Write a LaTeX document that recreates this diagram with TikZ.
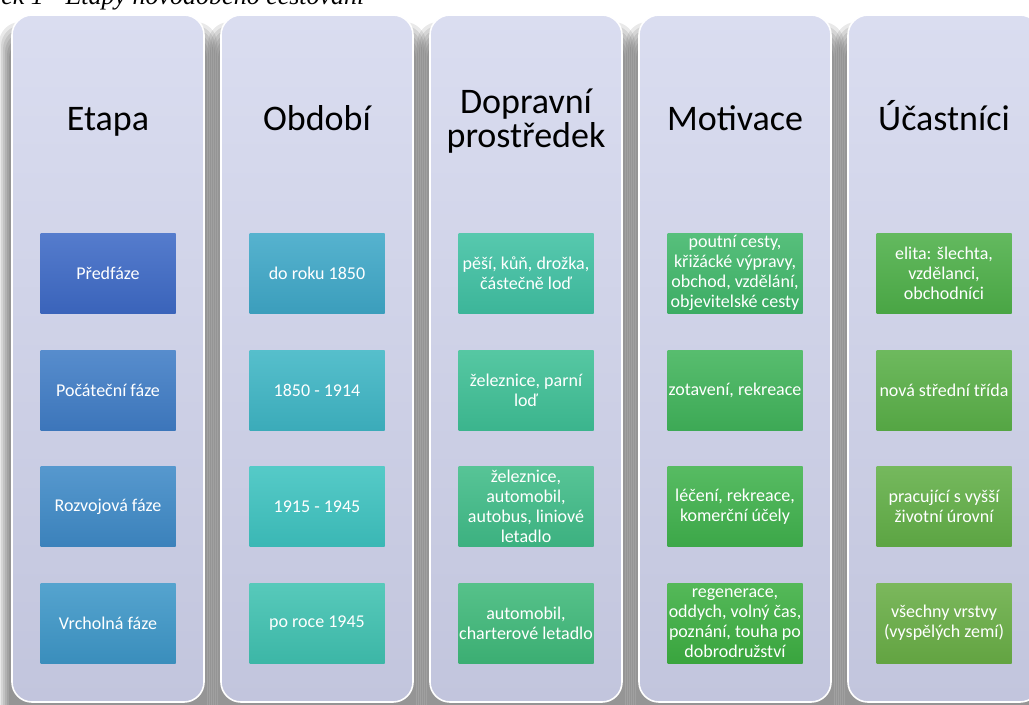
\documentclass[tikz,border=0pt]{standalone}
\usepackage{fontspec}
\setmainfont{Carlito}
\newfontfamily\capfont{Liberation Serif}

\definecolor{bandTop}{HTML}{DADDF0}
\definecolor{bandBot}{HTML}{C2C5DD}
% etapa
\definecolor{cE1}{HTML}{3E6AC6}
\definecolor{cE2}{HTML}{407DC6}
\definecolor{cE3}{HTML}{3F8AC7}
\definecolor{cE4}{HTML}{3E97C8}
% obdobi
\definecolor{cO1}{HTML}{3FA8C8}
\definecolor{cO2}{HTML}{3FB6C5}
\definecolor{cO3}{HTML}{3EC3C0}
\definecolor{cO4}{HTML}{40C2B1}
% dopravni prostredek
\definecolor{cD1}{HTML}{40C1A3}
\definecolor{cD2}{HTML}{3FC096}
\definecolor{cD3}{HTML}{40BC88}
\definecolor{cD4}{HTML}{3FB97A}
% motivace
\definecolor{cM1}{HTML}{40B76A}
\definecolor{cM2}{HTML}{41B45B}
\definecolor{cM3}{HTML}{40B24D}
\definecolor{cM4}{HTML}{3DAF42}
% ucastnici
\definecolor{cU1}{HTML}{4EB049}
\definecolor{cU2}{HTML}{5AB048}
\definecolor{cU3}{HTML}{62AF47}
\definecolor{cU4}{HTML}{69AE46}

\tikzset{
  band/.style={rectangle, rounded corners=15pt, minimum width=144pt, minimum height=515.25pt,
    draw=white, line width=1.2pt, top color=bandTop, bottom color=bandBot},
  head/.style={font=\fontsize{27}{25}\selectfont, align=center, text=black, inner sep=0pt},
  cell/.style={rectangle, minimum width=101.25pt, minimum height=60pt, inner sep=0pt,
    align=center, text=white, font=\fontsize{13.5}{15}\selectfont,
    top color=#1!88!white, bottom color=#1!94!black},
}

\begin{document}
\begin{tikzpicture}[x=0.75pt, y=-0.75pt]
	\useasboundingbox (0,0) rectangle (1029,704);
	\clip (0,0) rectangle (1029,704);
	
	\node[anchor=base west, inner sep=0pt, font=\capfont\itshape\fontsize{19.5}{20}\selectfont] (cap) at (1,4) {ek 1 - Etapy novodobého cestování};
	
	% stiny
	\foreach \x in {12,221,430,639,848}
		\foreach \i in {0,...,5}
			\fill[black, opacity=0.085, rounded corners=16pt] (\x-13+2*\i, 22+3*\i) rectangle (\x+205-2*\i, 730);
	
	\node[band] (col1) at (108,358.5) {};
	\node[band] (col2) at (317,358.5) {};
	\node[band] (col3) at (526,358.5) {};
	\node[band] (col4) at (735,358.5) {};
	\node[band] (col5) at (944,358.5) {};
	
	\node[head, anchor=base] (h1) at (108,130) {Etapa};
	\node[head, anchor=base] (h2) at (317,130) {Období};
	\node[head] (h3) at (526,121) {Dopravní\\prostředek};
	\node[head, anchor=base] (h4) at (735,130) {Motivace};
	\node[head, anchor=base] (h5) at (944,130) {Účastníci};
	
	\node[cell=cE1] (e1) at (108,273) {Předfáze};
	\node[cell=cE2] (e2) at (108,390) {Počáteční fáze};
	\node[cell=cE3] (e3) at (108,506.5) {Rozvojová fáze};
	\node[cell=cE4] (e4) at (108,623) {Vrcholná fáze};
	
	\node[cell=cO1] (o1) at (317,273) {do roku 1850};
	\node[cell=cO2] (o2) at (317,390) {1850 - 1914};
	\node[cell=cO3] (o3) at (317,506.5) {1915 - 1945};
	\node[cell=cO4] (o4) at (317,623) {po roce 1945};
	
	\node[cell=cD1] (d1) at (526,273) {pěší, kůň, drožka,\\částečně loď};
	\node[cell=cD2] (d2) at (526,390) {železnice, parní\\loď};
	\node[cell=cD3] (d3) at (526,506.5) {železnice,\\automobil,\\autobus, liniové\\letadlo};
	\node[cell=cD4] (d4) at (526,623) {automobil,\\charterové letadlo};
	
	\node[cell=cM1] (m1) at (735,273) {poutní cesty,\\křižácké výpravy,\\obchod, vzdělání,\\objevitelské cesty};
	\node[cell=cM2] (m2) at (735,390) {zotavení, rekreace};
	\node[cell=cM3] (m3) at (735,506.5) {léčení, rekreace,\\komerční účely};
	\node[cell=cM4] (m4) at (735,623) {regenerace,\\oddych, volný čas,\\poznání, touha po\\dobrodružství};
	
	\node[cell=cU1] (u1) at (944,273) {elita: šlechta,\\vzdělanci,\\obchodníci};
	\node[cell=cU2] (u2) at (944,390) {nová střední třída};
	\node[cell=cU3] (u3) at (944,506.5) {pracující s vyšší\\životní úrovní};
	\node[cell=cU4] (u4) at (944,623) {všechny vrstvy\\(vyspělých zemí)};
	
\end{tikzpicture}
\end{document}
